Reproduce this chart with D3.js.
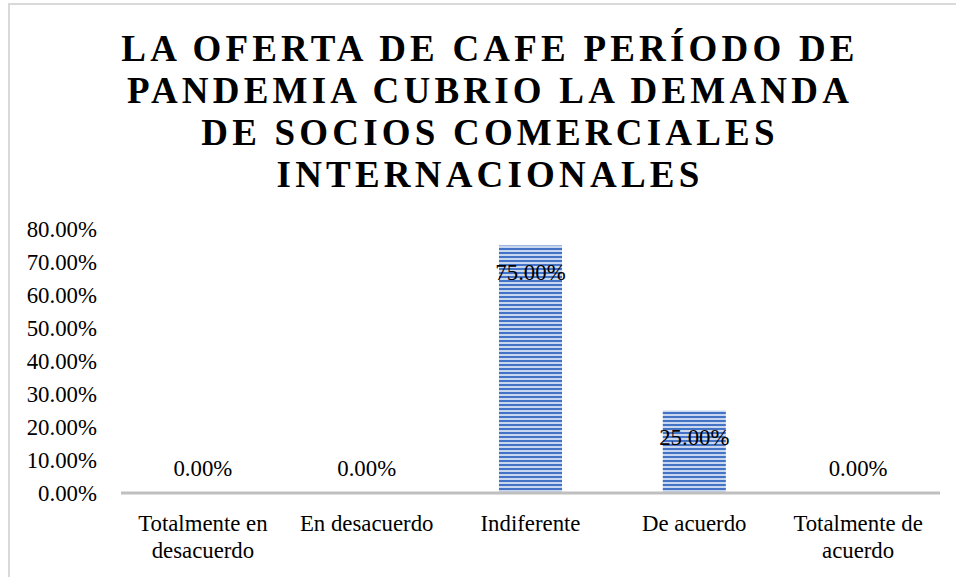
<!DOCTYPE html>
<html>
<head>
<meta charset="utf-8">
<script src="https://cdn.jsdelivr.net/npm/d3@7"></script>
<style>
  body { margin: 0; background: #fff; }
  svg { display: block; }
</style>
</head>
<body>
<svg id="chart" width="956" height="577"></svg>
<script>
// data
var categories = [["Totalmente en", "desacuerdo"], ["En desacuerdo"], ["Indiferente"], ["De acuerdo"], ["Totalmente de", "acuerdo"]];
var values = [0, 0, 0.75, 0.25, 0];
var yTicks = [0, 0.1, 0.2, 0.3, 0.4, 0.5, 0.6, 0.7, 0.8];
var titleLines = ["LA OFERTA DE CAFE PERÍODO DE", "PANDEMIA CUBRIO LA DEMANDA", "DE SOCIOS COMERCIALES", "INTERNACIONALES"];

var svg = d3.select("#chart");
var font = "'Liberation Serif', 'Times New Roman', serif";
var fs = 22.8;

// chart border
svg.append("rect")
    .attr("x", 9).attr("y", 4)
    .attr("width", 960).attr("height", 600)
    .attr("fill", "none")
    .attr("stroke", "#d9d9d9")
    .attr("stroke-width", 2);

// pattern for bars (horizontal stripes)
var defs = svg.append("defs");
var pat = defs.append("pattern")
    .attr("id", "stripes")
    .attr("patternUnits", "userSpaceOnUse")
    .attr("width", 8).attr("height", 4);
pat.append("rect").attr("width", 8).attr("height", 4).attr("fill", "#c9d6ef");
pat.append("rect").attr("width", 8).attr("height", 2).attr("fill", "#4472c4");

// title
svg.append("text")
    .attr("text-anchor", "middle")
    .attr("font-family", font)
    .attr("font-weight", "bold")
    .attr("font-size", 37)
    .attr("letter-spacing", 4.2)
    .attr("fill", "#000")
    .selectAll("tspan")
    .data(titleLines)
    .enter().append("tspan")
    .attr("x", 490)
    .attr("y", function(d, i) { return 61 + i * 42; })
    .text(function(d) { return d; });

var plotLeft = 121, plotRight = 940, plotTop = 229, plotBottom = 493;

var x = d3.scaleBand()
    .domain(d3.range(categories.length))
    .range([plotLeft, plotRight])
    .paddingInner(0.615)
    .paddingOuter(0.3075);

var y = d3.scaleLinear().domain([0, 0.8]).range([plotBottom, plotTop]);

// y axis labels
var yAxis = d3.axisLeft(y)
    .tickValues(yTicks)
    .tickFormat(function(d) { return (d * 100).toFixed(2) + "%"; })
    .tickSize(0)
    .tickPadding(0);

var yg = svg.append("g")
    .attr("transform", "translate(97,0)")
    .call(yAxis);
yg.select(".domain").remove();
yg.selectAll("text")
    .attr("font-family", font)
    .attr("font-size", fs)
    .attr("fill", "#000")
    .attr("dy", "0.35em");

// bars
svg.selectAll(".bar")
    .data(values)
    .enter().append("rect")
    .attr("class", "bar")
    .attr("x", function(d, i) { return x(i); })
    .attr("y", function(d) { return y(d); })
    .attr("width", x.bandwidth())
    .attr("height", function(d) { return plotBottom - y(d); })
    .attr("fill", "url(#stripes)");

// x axis line
svg.append("line")
    .attr("x1", plotLeft).attr("x2", plotRight)
    .attr("y1", plotBottom).attr("y2", plotBottom)
    .attr("stroke", "#bfbfbf")
    .attr("stroke-width", 3);

// data labels
svg.selectAll(".lbl")
    .data(values)
    .enter().append("text")
    .attr("class", "lbl")
    .attr("x", function(d, i) { return x(i) + x.bandwidth() / 2; })
    .attr("y", function(d) { return d > 0 ? y(d) + 27 : y(0) - 24.5; })
    .attr("dy", "0.35em")
    .attr("text-anchor", "middle")
    .attr("font-family", font)
    .attr("font-size", fs)
    .attr("fill", "#000")
    .text(function(d) { return (d * 100).toFixed(2) + "%"; });

// category labels
var cats = svg.selectAll(".cat")
    .data(categories)
    .enter().append("text")
    .attr("class", "cat")
    .attr("text-anchor", "middle")
    .attr("font-family", font)
    .attr("font-size", fs)
    .attr("fill", "#000");
cats.selectAll("tspan")
    .data(function(d, i) { return d.map(function(t) { return { t: t, i: i }; }); })
    .enter().append("tspan")
    .attr("x", function(d) { return x(d.i) + x.bandwidth() / 2; })
    .attr("y", function(d, j) { return 531 + j * 27; })
    .text(function(d) { return d.t; });
</script>
</body>
</html>
